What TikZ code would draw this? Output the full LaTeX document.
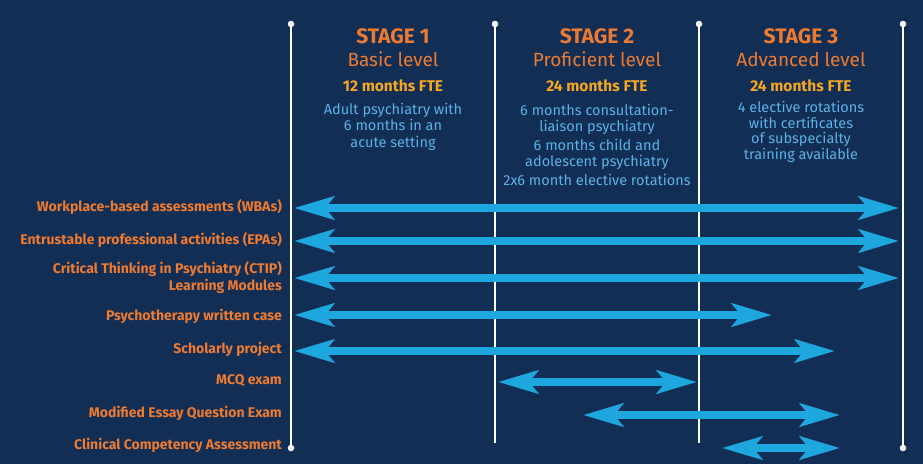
\documentclass[tikz,border=0pt]{standalone}
\usepackage{fontspec}
\setmainfont{Fira Sans}
\usetikzlibrary{arrows.meta}
\definecolor{navy}{HTML}{132E54}
\definecolor{stageorange}{HTML}{EC7A31}
\definecolor{ftegold}{HTML}{F5A622}
\definecolor{textblue}{HTML}{5AB2E6}
\definecolor{arrowblue}{HTML}{1EA6DF}
\tikzset{
  stagehead/.style  = {text=stageorange, font=\bfseries\fontsize{21}{24}\selectfont},
  stagelevel/.style = {text=stageorange, font=\fontsize{19}{22}\selectfont},
  stagefte/.style   = {text=ftegold, font=\bfseries\fontsize{15.5}{18}\selectfont},
  stagetext/.style  = {text=textblue, align=center, inner sep=0pt,
                       font=\fontsize{14.5}{16.5}\selectfont},
  asmt/.style       = {anchor=east, align=right, text=stageorange, inner sep=0pt,
                       font=\bfseries\fontsize{14}{17}\selectfont},
  span/.style       = {{Stealth[length=40pt, width=23pt, inset=9pt]}-{Stealth[length=40pt, width=23pt, inset=9pt]},
                       line width=8pt, draw=arrowblue},
  divider/.style    = {white, line width=2.5pt},
  enddot/.style     = {circle, fill=white, inner sep=0pt, minimum size=6.5pt},
}
\begin{document}
\begin{tikzpicture}[x=1pt, y=-1pt]
  \fill[navy] (0,0) rectangle (923,464);
  \useasboundingbox (0,0) rectangle (923,464);

  % stage dividers
  \node[enddot] (d1t) at (291,24) {};
  \node[enddot] (d1b) at (291,448) {};
  \node[enddot] (d2t) at (495,24) {};
  \coordinate (d2b) at (495,443);
  \node[enddot] (d3t) at (699,24) {};
  \coordinate (d3b) at (699,443);
  \node[enddot] (d4t) at (903,24) {};
  \node[enddot] (d4b) at (903,448) {};
  \draw[divider] (d1t.center) -- (d1b.center);
  \draw[divider] (d2t.center) -- (d2b);
  \draw[divider] (d3t.center) -- (d3b);
  \draw[divider] (d4t.center) -- (d4b.center);

  % stage headings
  \node[stagehead]  (s1) at (393,36) {STAGE 1};
  \node[stagelevel] (l1) at (393,59) {Basic level};
  \node[stagefte]   (f1) at (393,86) {12 months FTE};
  \node[stagetext]  (t1) at (393,126.5) {Adult psychiatry with\\6 months in an\\acute setting};

  \node[stagehead]  (s2) at (597,36) {STAGE 2};
  \node[stagelevel] (l2) at (597,59) {Proficient level};
  \node[stagefte]   (f2) at (597,86) {24 months FTE};
  \node[stagetext]  (t2) at (597,144.5) {6 months consultation-\\liaison psychiatry\\[2pt]6 months child and\\adolescent psychiatry\\[2pt]2x6 month elective rotations};

  \node[stagehead]  (s3) at (801,36) {STAGE 3};
  \node[stagelevel] (l3) at (801,59) {Advanced level};
  \node[stagefte]   (f3) at (801,86) {24 months FTE};
  \node[stagetext, font=\fontsize{14.5}{15.5}\selectfont] (t3) at (801,132) {4 elective rotations\\with certificates\\of subspecialty\\training available};

  % assessments
  \node[asmt] (wba)   at (282,207) {Workplace-based assessments (WBAs)};
  \node[asmt] (epa)   at (282,240) {Entrustable professional activities (EPAs)};
  \node[asmt] (ctip)  at (282,278) {Critical Thinking in Psychiatry (CTIP)\\Learning Modules};
  \node[asmt] (psy)   at (282,316) {Psychotherapy written case};
  \node[asmt] (schol) at (282,349) {Scholarly project};
  \node[asmt] (mcq)   at (282,381) {MCQ exam};
  \node[asmt] (meq)   at (282,413) {Modified Essay Question Exam};
  \node[asmt] (cca)   at (282,445) {Clinical Competency Assessment};

  % spans
  \coordinate (wbaA) at (294,208);   \coordinate (wbaB) at (899,208);
  \coordinate (epaA) at (294,241);   \coordinate (epaB) at (899,241);
  \coordinate (ctipA) at (294,278);  \coordinate (ctipB) at (899,278);
  \coordinate (psyA) at (294,315);   \coordinate (psyB) at (772,315);
  \coordinate (scholA) at (294,351); \coordinate (scholB) at (835,351);
  \coordinate (mcqA) at (498,382);   \coordinate (mcqB) at (697,382);
  \coordinate (meqA) at (583,415);   \coordinate (meqB) at (840,415);
  \coordinate (ccaA) at (722,448);   \coordinate (ccaB) at (840,448);
  \draw[span] (wbaA) -- (wbaB);
  \draw[span] (epaA) -- (epaB);
  \draw[span] (ctipA) -- (ctipB);
  \draw[span] (psyA) -- (psyB);
  \draw[span] (scholA) -- (scholB);
  \draw[span] (mcqA) -- (mcqB);
  \draw[span] (meqA) -- (meqB);
  \draw[span] (ccaA) -- (ccaB);
\end{tikzpicture}
\end{document}
